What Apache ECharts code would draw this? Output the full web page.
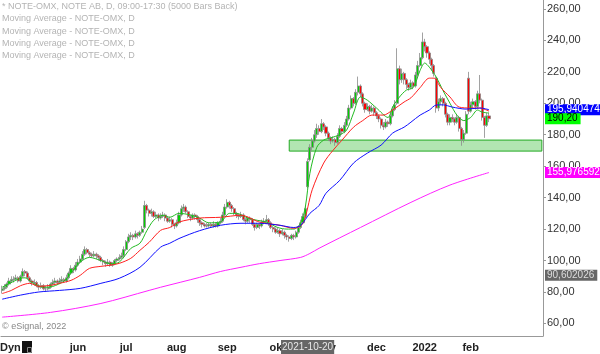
<!DOCTYPE html>
<html>
<head>
<meta charset="utf-8">
<script src="https://cdn.jsdelivr.net/npm/echarts@6/dist/echarts.min.js"></script>
<style>
  html, body { margin: 0; padding: 0; background: #fff; }
  #chart { width: 600px; height: 354px; }
</style>
</head>
<body>
<div id="chart"></div>
<script>
// trading calendar (Nasdaq Stockholm)
const firstDay = '2021-04-14';
const holidays = ['2021-05-13', '2021-06-25', '2021-12-24', '2021-12-31', '2022-01-06'];
const totalSlots = 236;
const monthNames = ['jan', 'feb', 'mar', 'apr', 'maj', 'jun', 'jul', 'aug', 'sep', 'okt', 'nov', 'dec'];
const firstLabelMonth = '2021-06';
const markedDay = '2021-10-20';

// daily bars: [open, close, low, high]
const candles = [
  [81,82,79,84],[82,83,81,85],[83,85,82,86],[85,87,84,89],[87,88,86,90],
  [88,88,86,90],[88,89,87,91],[89,87,86,90],[87,90,86,91],[90,93,89,95],
  [93,92,90,94],[92,89,88,93],[89,87,86,90],[87,86,84,88],[86,86,84,88],
  [86,84,83,87],[84,83,81,85],[83,84,82,86],[84,82,81,85],[82,82,80,84],
  [82,83,81,85],[83,85,82,86],[85,86,84,88],[86,87,85,89],[87,86,85,88],
  [86,87,85,89],[87,88,86,90],[88,87,86,89],[87,89,86,91],[89,92,88,93],
  [92,95,91,97],[95,94,92,96],[94,97,93,99],[97,99,96,101],[99,101,98,103],
  [101,104,100,106],[104,107,103,109],[107,105,104,108],[105,104,102,106],[104,103,102,105],
  [103,104,102,106],[104,103,101,105],[103,102,100,104],[102,100,99,103],[100,99,97,101],
  [99,98,96,100],[98,99,97,101],[99,97,96,100],[97,98,96,99],[98,100,97,101],
  [100,101,99,102],[101,102,100,104],[102,103,101,105],[103,107,102,109],[107,112,106,113],
  [112,115,111,117],[115,116,113,118],[116,115,113,117],[115,117,114,119],[117,116,114,118],
  [116,118,115,119],[118,120,117,122],[121,135,120,138],[135,132,130,136],[132,130,128,133],
  [130,131,128,133],[131,128,127,132],[128,129,127,131],[129,127,125,130],[127,128,126,130],
  [128,129,127,131],[129,127,125,130],[127,125,124,128],[125,126,124,128],[126,123,121,127],
  [123,122,120,124],[122,124,121,126],[124,129,123,131],[129,133,128,135],[133,134,131,136],
  [134,131,130,135],[131,128,127,132],[128,127,125,129],[127,129,126,130],[129,128,126,130],
  [128,126,124,129],[126,124,122,127],[124,123,121,125],[123,122,121,124],[122,122,121,124],
  [122,123,121,124],[123,122,121,124],[122,123,121,125],[123,122,121,124],[122,124,121,125],
  [124,125,123,127],[125,129,124,131],[129,134,128,136],[134,137,133,139],[137,135,133,138],
  [135,133,131,136],[133,130,129,134],[130,129,127,131],[129,128,126,130],[128,129,127,131],
  [129,126,125,130],[126,125,123,127],[125,127,124,128],[127,126,124,128],[126,123,122,127],
  [123,121,119,124],[121,123,120,124],[123,122,120,124],[122,124,121,126],[124,125,123,127],
  [125,126,124,129],[126,124,122,127],[124,121,120,125],[121,120,118,122],[120,118,117,121],
  [118,119,117,121],[119,117,115,120],[117,118,116,120],[118,116,114,119],[116,115,113,117],
  [115,114,112,116],[114,116,113,117],[116,115,113,117],[115,118,114,119],[118,121,117,122],
  [121,124,120,126],[124,128,123,130],[128,133,127,135],[147,163,146,165],[164,172,163,174],
  [172,176,170,178],[176,180,175,183],[180,184,178,187],[184,182,180,186],[182,187,181,190],
  [187,185,183,188],[185,181,179,186],[181,178,176,182],[178,176,174,179],[176,177,175,179],
  [177,175,173,178],[175,179,174,181],[179,184,178,186],[184,182,180,185],[182,186,181,188],
  [186,190,185,192],[190,197,189,199],[197,203,196,205],[203,200,198,204],[200,207,199,209],
  [207,211,205,217],[211,206,204,212],[206,200,198,207],[200,196,194,201],[196,198,195,200],
  [198,195,193,199],[195,197,194,199],[197,194,192,198],[194,192,190,195],[192,190,188,193],
  [190,186,184,191],[186,185,183,188],[185,188,184,190],[188,187,185,189],[187,192,186,194],
  [192,196,191,198],[196,199,195,202],[200,222,199,235],[222,215,212,224],[215,219,213,222],
  [219,215,212,220],[215,212,209,216],[212,210,208,213],[210,213,209,215],[213,211,209,214],
  [211,218,210,220],[218,224,217,227],[224,229,223,232],[229,239,228,245],[239,236,233,241],
  [236,232,229,237],[232,228,225,233],[228,224,221,229],[224,219,217,225],[216,197,194,217],
  [197,201,195,203],[201,203,199,205],[203,200,198,204],[200,193,191,201],[193,188,186,194],
  [188,191,186,193],[191,190,188,193],[190,188,186,191],[188,191,187,193],[191,184,182,192],
  [184,177,173,185],[177,181,175,183],[181,193,180,195],[216,195,193,220],[195,199,194,201],
  [199,201,197,203],[201,198,196,202],[198,206,197,208],[206,202,200,218],[202,191,189,203],
  [191,186,178,192],[186,192,185,194],[192,190.2,188,194]
];

// moving averages: [day index, value]
const maGreen = [
  [0,83],[8,88.7],[10,89],[13,86],[18,83],[22,83.5],[27,87],[30,92],[34,99],[38,102],
  [43,100],[47,98],[51,99],[56,107.7],[60,111],[63,119],[66,125.6],[70,128.8],[73,127.5],
  [77,130],[82,129],[86,127],[90,124],[95,124.5],[99,130],[102,130],[107,127],[111,125.6],
  [115,124.5],[120,121],[124,120],[127,120],[130,124],[132,134],[134,155.5],[137,172],
  [140,176.6],[143,178],[147,180],[150,183],[153,193.8],[156,204],[159,202],[163,197],
  [168,191],[170,197.6],[173,204],[176,208.4],[179,210],[182,221],[184,225.6],[186,223],
  [189,216.7],[192,208],[195,200],[198,192.5],[201,189],[204,191],[207,195.7],[209,194.4],
  [212,193.8]
];
const maRed = [
  [0,79],[4,81],[8,84],[12,85.5],[16,83.6],[21,84.2],[25,85.5],[30,87.4],[34,90.6],[38,95],
  [43,96.3],[47,97],[51,98.2],[56,101.4],[60,106.5],[64,111.6],[69,119.2],[73,121],[77,124.5],
  [86,127],[95,127.5],[104,128.8],[112,124.5],[121,122.4],[127,120.5],[131,123.7],[135,145],
  [140,162],[144,170],[148,176.6],[153,184.8],[157,189],[161,192.5],[166,192.5],[170,195.7],
  [175,200.8],[178,203.5],[182,210],[186,216],[188,216],[191,210],[195,204],[199,197.6],
  [204,197],[208,197],[212,195]
];
const maBlue = [
  [0,75.4],[8,78],[16,80],[25,81],[34,82.3],[43,85.5],[51,88.7],[60,95.7],[69,108.5],
  [73,111],[77,114],[86,119],[95,122.4],[104,123.7],[112,123.7],[121,122.4],[127,121],
  [130,122.4],[134,130],[138,135],[141,142.8],[147,151],[153,162],[159,168.3],[165,173.4],
  [170,181],[175,184.8],[178,188],[182,192.5],[186,195.7],[189,198.9],[192,199],[196,197.6],
  [202,196.3],[208,197],[212,195.94]
];
const maMagenta = [
  [0,64],[21,67],[43,72.7],[64,81],[69,83],[86,89.3],[95,93],[104,95.7],[112,98],[121,100],
  [130,102],[134,104.5],[138,107.8],[156,121],[178,137],[195,148],[212,155.98]
];

// last values shown in the price scale
const lastLabels = ['195,940474', '190,20', '155,976592', '90,602026'];
const lastValues = [195.940474, 190.20, 155.976592, 90.602026];
const lastColors = ['#0000ff', '#00ff00', '#ff00ff', '#666666'];
const lastTextColors = ['#ffffff', '#000000', '#ffffff', '#dddddd'];

// support zone
const zoneStartIndex = 125;
const zoneLow = 169.6;
const zoneHigh = 176.6;

const yTicks = [60, 80, 100, 120, 140, 160, 180, 200, 220, 240, 260];

const legendLines = [
  '* NOTE-OMX, NOTE AB, D, 09:00-17:30 (5000 Bars Back)',
  'Moving Average - NOTE-OMX, D',
  'Moving Average - NOTE-OMX, D',
  'Moving Average - NOTE-OMX, D',
  'Moving Average - NOTE-OMX, D'
];

// build the trading days
const days = [];
const cursor = new Date(firstDay + 'T00:00:00Z');
while (days.length < totalSlots) {
  const s = cursor.toISOString().slice(0, 10);
  const wd = cursor.getUTCDay();
  if (wd !== 0 && wd !== 6 && !holidays.includes(s)) days.push(s);
  cursor.setUTCDate(cursor.getUTCDate() + 1);
}
const isMonthStart = (idx) =>
  idx > 0 && idx < candles.length &&
  days[idx].slice(0, 7) !== days[idx - 1].slice(0, 7) &&
  days[idx] >= firstLabelMonth;

const monthLabel = (value) => {
  const m = +value.slice(5, 7);
  return m === 1 ? value.slice(0, 4) : monthNames[m - 1];
};

const font = 'Liberation Sans, Arial, sans-serif';
const chart = echarts.init(document.getElementById('chart'));

const maSeries = (data, color) => ({
  type: 'line',
  data: data,
  showSymbol: false,
  smooth: 0.3,
  lineStyle: { color: color, width: 1 },
  silent: true,
  z: 3
});

const option = {
  animation: false,
  backgroundColor: '#fff',
  grid: { left: 1, right: 57, top: 0, bottom: 18 },
  axisPointer: { triggerOn: 'none' },
  xAxis: {
    type: 'category',
    data: days,
    boundaryGap: true,
    axisLine: { lineStyle: { color: '#999' } },
    axisTick: {
      alignWithLabel: true,
      length: 3,
      interval: (idx) => isMonthStart(idx),
      lineStyle: { color: '#999' }
    },
    axisLabel: {
      interval: (idx) => isMonthStart(idx),
      formatter: monthLabel,
      color: '#222',
      fontWeight: 'bold',
      fontSize: 11,
      fontFamily: font,
      margin: 6
    },
    splitLine: { show: false },
    axisPointer: {
      show: true,
      status: 'show',
      value: days.indexOf(markedDay),
      type: 'line',
      triggerTooltip: false,
      lineStyle: { color: 'rgba(0,0,0,0)' },
      label: {
        show: true,
        backgroundColor: '#666',
        color: '#e8e8e8',
        fontSize: 10,
        fontFamily: font,
        padding: [2, 1, 2, 1],
        margin: 4,
        borderRadius: 0
      }
    }
  },
  yAxis: {
    type: 'value',
    position: 'right',
    min: 52,
    max: 265.7,
    splitLine: { show: false },
    axisLine: { show: true, lineStyle: { color: '#999' } },
    axisTick: { show: true, length: 3, customValues: yTicks, lineStyle: { color: '#999' } },
    axisLabel: {
      customValues: yTicks,
      formatter: (v) => v.toFixed(2).replace('.', ','),
      color: '#333',
      fontSize: 11,
      fontFamily: font,
      margin: 4
    }
  },
  series: [
    {
      type: 'candlestick',
      data: candles,
      barWidth: 2.6,
      clip: false,
      itemStyle: {
        color: '#00d000',
        color0: '#ff0000',
        borderColor: '#8a8a8a',
        borderColor0: '#8a8a8a',
        borderWidth: 0.8
      },
      markArea: {
        silent: true,
        itemStyle: { color: 'rgba(0,170,0,0.3)', borderColor: '#22aa22', borderWidth: 1 },
        data: [[
          { xAxis: zoneStartIndex, yAxis: zoneHigh },
          { xAxis: days.length - 1, yAxis: zoneLow }
        ]]
      },
      markLine: {
        silent: true,
        symbol: 'none',
        lineStyle: { color: 'rgba(0,0,0,0)', width: 0 },
        z: 10,
        data: lastValues.map((v, k) => ({
          yAxis: v,
          label: {
            show: true,
            position: 'end',
            distance: 2,
            formatter: lastLabels[k],
            backgroundColor: lastColors[k],
            color: lastTextColors[k],
            fontSize: 10,
            fontFamily: font,
            padding: [1, 3, 0, 2]
          }
        }))
      }
    },
    maSeries(maGreen, '#22bb22'),
    maSeries(maRed, '#ff2020'),
    maSeries(maBlue, '#1010ff'),
    maSeries(maMagenta, '#ff22ff')
  ],
  graphic: [
    ...legendLines.map((t, k) => ({
      type: 'text',
      left: 2,
      top: 2 + k * 12.3,
      silent: true,
      style: { text: t, fill: '#b4b4b4', font: '9px ' + font }
    })),
    {
      type: 'text', left: 2, top: 322, silent: true,
      style: { text: '\u00a9 eSignal, 2022', fill: '#888', font: '9px ' + font }
    },
    {
      type: 'text', left: 0, top: 342, silent: true,
      style: { text: 'Dyn', fill: '#222', font: 'bold 11px ' + font }
    },
    {
      type: 'rect', left: 22, top: 341, silent: true,
      shape: { width: 10, height: 12 },
      style: { fill: '#111' }
    },
    {
      type: 'rect', left: 25, top: 345, silent: true,
      shape: { width: 4, height: 5 },
      style: { fill: 'none', stroke: '#888', lineWidth: 1 }
    }
  ]
};

chart.setOption(option);
</script>
</body>
</html>
